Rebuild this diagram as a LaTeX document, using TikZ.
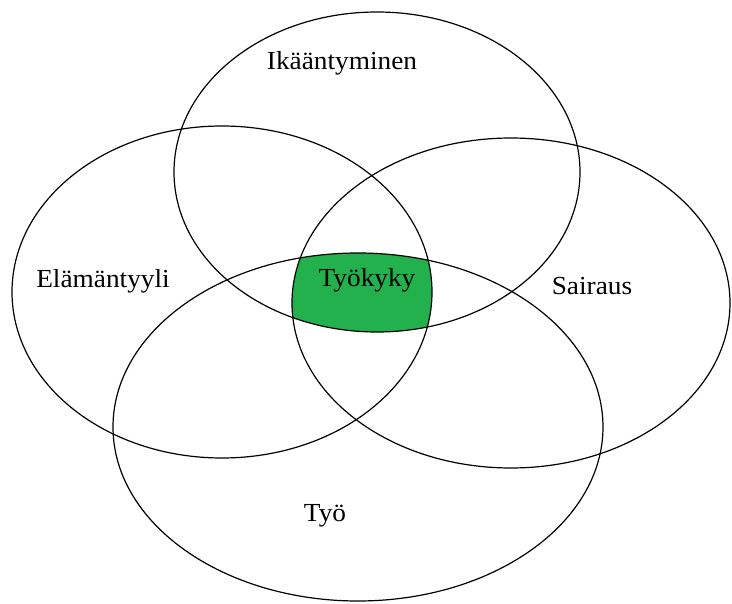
\documentclass[tikz,border=0pt]{standalone}
\usepackage{fontspec}
\setmainfont[FakeStretch=1.05]{Liberation Serif}
\newlength{\du}
\setlength{\du}{1pt}

\begin{document}
\begin{tikzpicture}
\pgftransformxscale{1.000000}
\pgftransformyscale{-1.000000}
\useasboundingbox (0\du,0\du) rectangle (732\du,604\du);
\definecolor{dialinecolor}{rgb}{0.133333, 0.694118, 0.298039}
\pgfsetfillcolor{dialinecolor}
% common part of the four sets
\begin{scope}
\clip (377\du,172\du) ellipse [x radius=203\du, y radius=160\du];
\clip (222\du,292\du) ellipse [x radius=210\du, y radius=166\du];
\clip (511\du,303\du) ellipse [x radius=219\du, y radius=165\du];
\clip (358\du,427\du) ellipse [x radius=245\du, y radius=174\du];
\fill (0\du,0\du) rectangle (732\du,604\du);
\end{scope}
\pgfsetlinewidth{1.200000\du}
\pgfsetdash{}{0pt}
\definecolor{dialinecolor}{rgb}{0.000000, 0.000000, 0.000000}
\pgfsetstrokecolor{dialinecolor}
\pgfpathellipse{\pgfpoint{377\du}{172\du}}{\pgfpoint{203\du}{0\du}}{\pgfpoint{0\du}{160\du}}
\pgfusepath{stroke}
\pgfpathellipse{\pgfpoint{222\du}{292\du}}{\pgfpoint{210\du}{0\du}}{\pgfpoint{0\du}{166\du}}
\pgfusepath{stroke}
\pgfpathellipse{\pgfpoint{511\du}{303\du}}{\pgfpoint{219\du}{0\du}}{\pgfpoint{0\du}{165\du}}
\pgfusepath{stroke}
\pgfpathellipse{\pgfpoint{358\du}{427\du}}{\pgfpoint{245\du}{0\du}}{\pgfpoint{0\du}{174\du}}
\pgfusepath{stroke}
% setfont left to latex
\tikzset{lbl/.style={inner sep=0pt, font=\fontsize{26}{31}\selectfont}}
\node[lbl] (ika) at (342\du,63\du){Ikääntyminen};
\node[lbl] (ela) at (103\du,281\du){Elämäntyyli};
\node[lbl] (sai) at (592\du,286\du){Sairaus};
\node[lbl] (tyo) at (325\du,516\du){Työ};
\node[lbl] (kyky) at (367\du,280\du){Työkyky};
\end{tikzpicture}
\end{document}
